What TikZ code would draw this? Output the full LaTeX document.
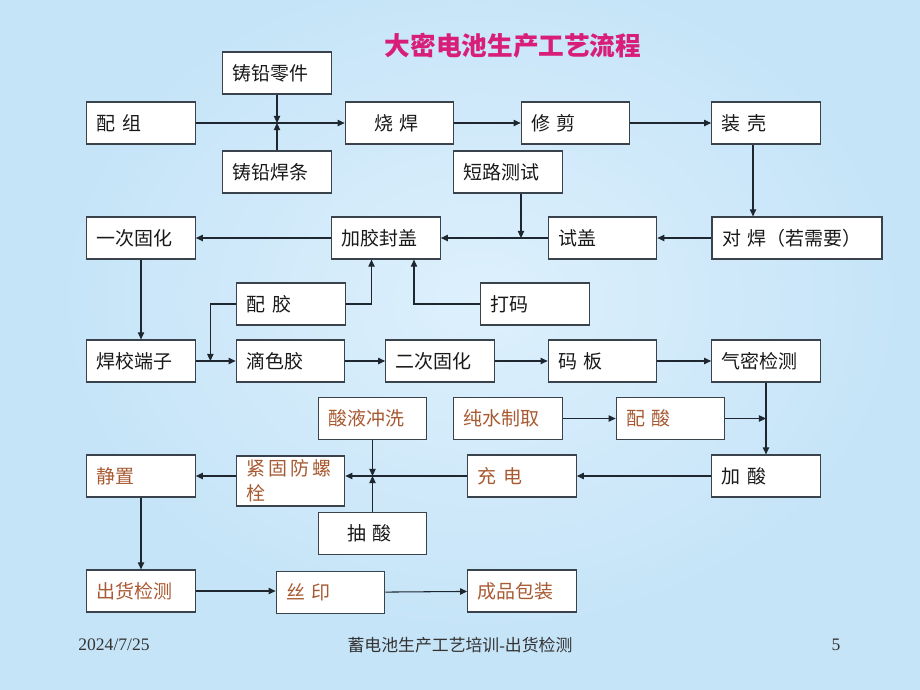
\documentclass[tikz,border=0pt]{standalone}
\usepackage{fontspec}
\setmainfont{Liberation Serif}
\newfontfamily\cjk{Noto Sans CJK SC}
\usetikzlibrary{arrows.meta}
\definecolor{bgblue}{HTML}{C6E4F8}
\definecolor{bglight}{HTML}{DDF0FC}
\definecolor{titlered}{HTML}{D81E78}
\definecolor{brownred}{HTML}{A85A32}
\definecolor{edge}{HTML}{3A424C}
\definecolor{wire}{HTML}{1E2630}

\begin{document}
\begin{tikzpicture}[x=0.02cm, y=-0.02cm,
  box/.style={draw=edge, line width=0.7pt, fill=white, text width=1.77cm,
    minimum height=0.84cm, inner xsep=0.2cm, align=left,
    font=\cjk\fontsize{10.8}{14}\selectfont, text=black!90},
  hot/.style={box, text=brownred},
  arr/.style={draw=wire, line width=0.6pt, -{Triangle[length=4pt,width=3.6pt]}}]
  % background
  \useasboundingbox (0,0) rectangle (920,690);
  \fill[bgblue] (0,0) rectangle (920,690);
  \begin{scope}
    \clip (0,0) rectangle (920,690);
    \shade[inner color=bglight, outer color=bgblue] (480,300) ellipse (420 and 330);
  \end{scope}
  % title
  \node[font=\cjk\bfseries\fontsize{14.6}{17}\selectfont, text=titlered] (title) at (513,46) {大密电池生产工艺流程};
  % row 1
  \node[box] (zqlj) at (277,73) {铸铅零件};
  \node[box] (peizu) at (141,123) {配 组};
  \node[box] (shaohan) at (399.5,123) {　烧 焊};
  \node[box] (xiujian) at (575.5,123) {修 剪};
  \node[box] (zhuangke) at (766,123) {装 壳};
  \node[box] (zqhd) at (277,172) {铸铅焊条};
  \node[box] (dlcs) at (508,172) {短路测试};
  % row 2
  \node[box] (yicigh) at (141,238) {一次固化};
  \node[box] (jiajiao) at (386,238) {加胶封盖};
  \node[box] (shigai) at (602.5,238) {试盖};
  \node[box, text width=3.0cm] (duihan) at (797,238) {对 焊（若需要）};
  \node[box] (peijiao) at (291,304) {配 胶};
  \node[box] (dama) at (535,304) {打码};
  % row 3
  \node[box] (hanxiao) at (141,361) {焊校端子};
  \node[box] (dise) at (290.5,361) {滴色胶};
  \node[box] (ercigh) at (440,361) {二次固化};
  \node[box] (maban) at (602.5,361) {码 板};
  \node[box] (qimi) at (766,361) {气密检测};
  % row 4
  \node[hot] (suanye) at (372.5,418.5) {酸液冲洗};
  \node[hot] (chunshui) at (508,418.5) {纯水制取};
  \node[hot] (peisuan) at (670.5,418.5) {配 酸};
  \node[hot] (jingzhi) at (141,476) {静置};
  \node[hot, minimum height=1.0cm, inner ysep=1pt] (jingu) at (290.5,481) {紧\,固\,防\,螺\\栓};
  \node[hot] (chongdian) at (522,476) {充 电};
  \node[box] (jiasuan) at (766,476) {加 酸};
  \node[box] (chousuan) at (372.5,533.5) {　抽 酸};
  % row 5
  \node[hot] (chuhuo) at (141,591) {出货检测};
  \node[hot] (siyin) at (330.5,592.5) {丝 印};
  \node[hot] (baozhuang) at (522,591) {成品包装};
  % footer
  \node[font=\fontsize{10}{12}\selectfont, text=black!80] (date) at (114,645) {2024/7/25};
  \node[font=\fontsize{9.6}{12}\selectfont, text=black!80] (foot) at (460,645) {{\cjk 蓄电池生产工艺培训}-{\cjk 出货检测}};
  \node[font=\fontsize{10}{12}\selectfont, text=black!80] (pagenum) at (836,645) {5};
  % connectors, row 1
  \draw[arr] (peizu) -- (shaohan);
  \draw[arr] (zqlj) -- (zqlj |- peizu);
  \draw[arr] (zqhd) -- (zqhd |- peizu);
  \draw[arr] (shaohan) -- (xiujian);
  \draw[arr] (xiujian) -- (zhuangke);
  \draw[arr] ([xshift=-0.26cm]zhuangke.south) -- ([xshift=-0.26cm]zhuangke.south |- duihan.north);
  % row 2
  \draw[arr] (duihan) -- (shigai);
  \draw[arr] (shigai) -- (jiajiao);
  \draw[arr] ([xshift=0.26cm]dlcs.south) -- ([xshift=0.26cm]dlcs.south |- shigai.west);
  \draw[arr] (jiajiao) -- (yicigh);
  \draw[arr] (yicigh) -- (hanxiao);
  \draw[arr] (peijiao.east) -| ([xshift=-0.29cm]jiajiao.south);
  \draw[arr] (dama.west) -| ([xshift=0.56cm]jiajiao.south);
  \draw[arr] (peijiao.west) -| ([xshift=0.29cm]hanxiao.east);
  % row 3
  \draw[arr] (hanxiao) -- (dise);
  \draw[arr] (dise) -- (ercigh);
  \draw[arr] (ercigh) -- (maban);
  \draw[arr] (maban) -- (qimi);
  \draw[arr] (qimi) -- (jiasuan);
  % row 4
  \draw[arr] (chunshui) -- (peisuan);
  \draw[arr] (peisuan.east) -- (peisuan.east -| qimi.south);
  \draw[arr] (jiasuan) -- (chongdian);
  \draw[arr] (chongdian.west) -- (chongdian.west -| jingu.east);
  \draw[arr] (suanye) -- (suanye |- chongdian.west);
  \draw[arr] (chousuan) -- (chousuan |- chongdian.west);
  \draw[arr] (jingu.west |- jingzhi.east) -- (jingzhi.east);
  \draw[arr] (jingzhi) -- (chuhuo);
  % row 5
  \draw[arr] (chuhuo.east) -- (chuhuo.east -| siyin.west);
  \draw[arr] (siyin) -- (baozhuang);
\end{tikzpicture}
\end{document}
